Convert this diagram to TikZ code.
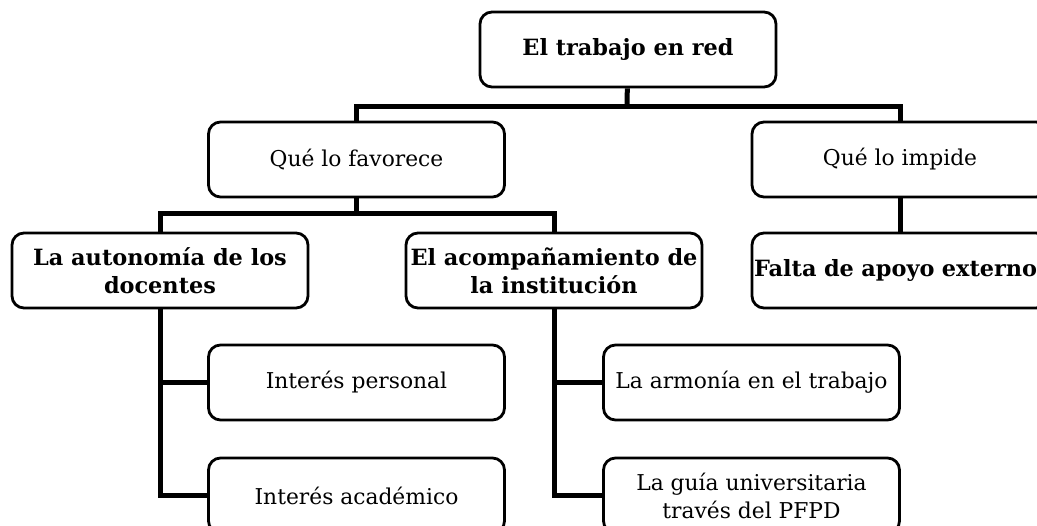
\documentclass[tikz,border=0pt]{standalone}
\usepackage{fontspec}
\setmainfont{DejaVu Serif}
\usepackage{tikz}
\usetikzlibrary{calc}
\newcommand\hd{\fontsize{11.2}{14}\selectfont\bfseries}
\newcommand\tx{\fontsize{10.9}{14}\selectfont}
\tikzstyle{box}=[draw,line width=1.4pt,rounded corners=6pt,minimum width=148pt,minimum height=37.5pt,align=center,inner sep=1pt,font=\tx]
\tikzstyle{boxb}=[box,font=\hd]
\tikzstyle{link}=[line width=2.5pt]

\begin{document}
\begin{tikzpicture}[x=.5pt,y=-.5pt]
  \clip (0,0) rectangle (1037,525);
  \node[boxb] (red) at (628,49.5) {El trabajo en red};
  \node[box] (fav) at (356.5,159.5) {Qué lo favorece};
  \node[box] (imp) at (900,159.5) {Qué lo impide};
  \node[boxb] (auto) at (160,270.5) {La autonomía de los\\docentes};
  \node[boxb] (acomp) at (554,270.5) {El acompañamiento de\\la institución};
  \node[boxb,text width=146pt,align=left] (falta) at (900,270.5) {Falta de apoyo externo};
  \node[box] (pers) at (356.5,382.5) {Interés personal};
  \node[box] (acad) at (356.5,495.5) {Interés académico};
  \node[box] (armo) at (751.5,382.5) {La armonía en el trabajo};
  \node[box] (guia) at (751.5,495.5) {La guía universitaria\\través del PFPD};
  \coordinate (top) at (627,106);
  \coordinate (mid) at (356.5,213);
  \draw[link] (red) -- (top);
  \draw[link] (fav.north) |- (top) -| (imp.north);
  \draw[link] (fav.south) -- (mid);
  \draw[link] (auto.north) |- (mid) -| (acomp.north);
  \draw[link] (imp) -- (falta);
  \draw[link] (auto.south) |- (pers.west);
  \draw[link] (auto.south) |- (acad.west);
  \draw[link] (acomp.south) |- (armo.west);
  \draw[link] (acomp.south) |- (guia.west);
\end{tikzpicture}
\end{document}
